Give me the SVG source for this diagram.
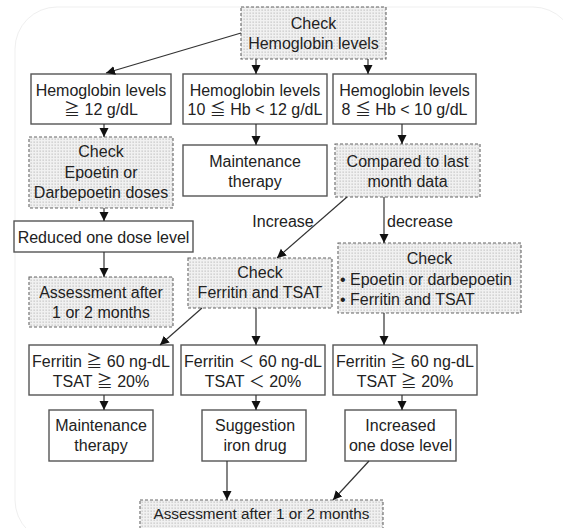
<svg xmlns="http://www.w3.org/2000/svg" width="563" height="528" viewBox="0 0 563 528">
<defs>
<pattern id="dots" width="3" height="3" patternUnits="userSpaceOnUse">
<rect width="3" height="3" fill="#f1f1f1"/>
<rect x="0.5" y="0.5" width="1.3" height="1.3" fill="#c4c4c4"/>
</pattern>
<marker id="ah" markerUnits="userSpaceOnUse" markerWidth="10" markerHeight="10" refX="9" refY="4.5" orient="auto">
<path d="M0,0 L9,4.5 L0,9 z" fill="#111"/>
</marker>
<style>
.bg{fill:#fff;stroke:#efefef;stroke-width:1}
.s{fill:#fff;stroke:#555;stroke-width:1.4}
.d{fill:url(#dots);stroke:#666;stroke-width:1.1;stroke-dasharray:3 2}
text{font-family:"Liberation Sans","Noto Sans CJK JP",Arial,sans-serif;font-size:16px;fill:#222;text-anchor:middle}
.l{text-anchor:start}
.c line{stroke:#333;stroke-width:1.2;marker-end:url(#ah)}
</style>
</defs>
<rect x="0" y="0" width="563" height="528" fill="#fff"/>
<rect class="bg" x="15" y="7" width="560" height="535" rx="42"/>

<g id="n_top"><rect class="d" x="241" y="7" width="145" height="52"/><text x="313.5" y="29">Check</text><text x="313.5" y="49">Hemoglobin levels</text></g>

<g id="n_hb12"><rect class="s" x="31" y="74" width="140" height="50"/><text x="101" y="96">Hemoglobin levels</text><text x="101" y="115">≧ 12 g/dL</text></g>
<g id="n_hb10"><rect class="s" x="183" y="74" width="144" height="50"/><text x="255" y="96">Hemoglobin levels</text><text x="255" y="115">10 ≦ Hb &lt; 12 g/dL</text></g>
<g id="n_hb8"><rect class="s" x="333" y="74" width="143" height="50"/><text x="404.5" y="96">Hemoglobin levels</text><text x="404.5" y="115">8 ≦ Hb &lt; 10 g/dL</text></g>

<g id="n_checkepo"><rect class="d" x="29" y="137" width="144" height="71"/><text x="101" y="157">Check</text><text x="101" y="177.5">Epoetin or</text><text x="101" y="198">Darbepoetin doses</text></g>
<g id="n_maint1"><rect class="s" x="183" y="145" width="144" height="51"/><text x="255" y="167">Maintenance</text><text x="255" y="187">therapy</text></g>
<g id="n_compared"><rect class="d" x="335" y="144" width="145" height="53"/><text x="407.5" y="167">Compared to last</text><text x="407.5" y="187">month data</text></g>

<g id="n_reduced"><rect class="s" x="14" y="221" width="179" height="31"/><text x="103.5" y="243">Reduced one dose level</text></g>
<g id="n_assess1"><rect class="d" x="29" y="277" width="144" height="50"/><text x="101" y="298">Assessment after</text><text x="101" y="318">1 or 2 months</text></g>
<g id="n_checkfer"><rect class="d" x="188" y="258" width="144" height="50"/><text x="260" y="278">Check</text><text x="260" y="298">Ferritin and TSAT</text></g>
<g id="n_checkboth"><rect class="d" x="338" y="243" width="183" height="70"/><text x="429.5" y="264">Check</text><text class="l" x="340" y="285">• Epoetin or darbepoetin</text><text class="l" x="340" y="305">• Ferritin and TSAT</text></g>

<g id="n_fer1"><rect class="s" x="29" y="345" width="144" height="50"/><text x="101" y="367">Ferritin ≧ 60 ng-dL</text><text x="101" y="387">TSAT ≧ 20%</text></g>
<g id="n_fer2"><rect class="s" x="181" y="345" width="144" height="50"/><text x="253" y="367">Ferritin ＜ 60 ng-dL</text><text x="253" y="387">TSAT ＜ 20%</text></g>
<g id="n_fer3"><rect class="s" x="333" y="345" width="144" height="50"/><text x="405" y="367">Ferritin ≧ 60 ng-dL</text><text x="405" y="387">TSAT ≧ 20%</text></g>

<g id="n_maint2"><rect class="s" x="49" y="410" width="104" height="51"/><text x="101" y="431">Maintenance</text><text x="101" y="451">therapy</text></g>
<g id="n_iron"><rect class="s" x="202" y="410" width="104" height="51"/><text x="255" y="431">Suggestion</text><text x="255" y="451">iron drug</text></g>
<g id="n_increased"><rect class="s" x="345" y="410" width="111" height="51"/><text x="400.5" y="431">Increased</text><text x="400.5" y="451">one dose level</text></g>

<g id="n_assess2"><rect class="d" x="140" y="500" width="243" height="34"/><text x="261.5" y="519" style="font-size:15.3px">Assessment after 1 or 2 months</text></g>

<g id="connectors" class="c">
<line x1="241" y1="33" x2="106" y2="73"/>
<line x1="256" y1="59" x2="256" y2="74"/>
<line x1="368" y1="59" x2="368" y2="74"/>
<line x1="104" y1="124" x2="104" y2="137"/>
<line x1="256" y1="124" x2="256" y2="145"/>
<line x1="402" y1="124" x2="402" y2="144"/>
<line x1="104" y1="208" x2="104" y2="221"/>
<line x1="104" y1="252" x2="104" y2="277"/>
<line x1="347" y1="197" x2="277" y2="258"/>
<line x1="384" y1="197" x2="384" y2="243"/>
<line x1="202" y1="308" x2="160" y2="345"/>
<line x1="256" y1="308" x2="256" y2="345"/>
<line x1="384" y1="313" x2="384" y2="345"/>
<line x1="104" y1="395" x2="104" y2="410"/>
<line x1="256" y1="395" x2="256" y2="410"/>
<line x1="402" y1="395" x2="402" y2="410"/>
<line x1="227" y1="461" x2="227" y2="500"/>
<line x1="369" y1="461" x2="333" y2="500"/>
</g>
<g id="labels">
<text x="283" y="227">Increase</text>
<text class="l" x="387" y="227">decrease</text>
</g>
</svg>
